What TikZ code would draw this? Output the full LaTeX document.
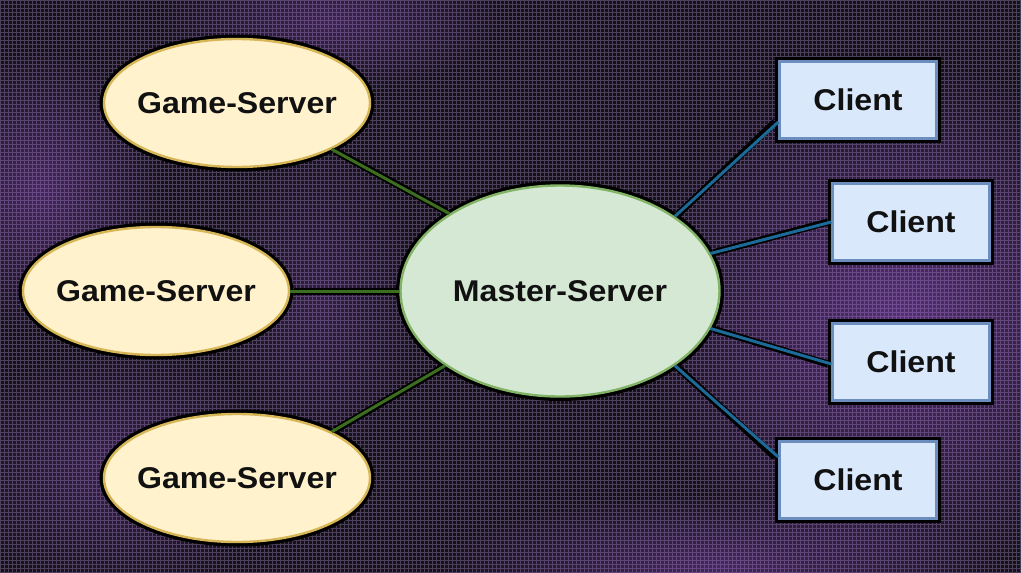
\documentclass[tikz,border=0pt]{standalone}
\usepackage{fontspec}
\setmainfont{Liberation Sans}
\usetikzlibrary{shapes.geometric,fadings}
\definecolor{bgc}{HTML}{141217}
\definecolor{gridc}{HTML}{4B3F5A}
\definecolor{glowc}{HTML}{B060F0}
\definecolor{gsfill}{HTML}{FFF2CC}
\definecolor{gsline}{HTML}{D6B656}
\definecolor{msfill}{HTML}{D5E8D4}
\definecolor{msline}{HTML}{82B366}
\definecolor{clfill}{HTML}{DAE8FC}
\definecolor{clline}{HTML}{6C8EBF}
\definecolor{greenedge}{HTML}{3B6E1F}
\definecolor{blueedge}{HTML}{1B6A98}
\definecolor{txt}{HTML}{111111}
\tikzfading[name=softglow, inner color=transparent!0, outer color=transparent!100]
\tikzset{
  lbl/.style={font=\bfseries\fontsize{30}{36}\selectfont, text=txt},
  gsshape/.style={ellipse, minimum width=266pt, minimum height=128pt, inner xsep=-40pt, inner ysep=0pt},
  msshape/.style={ellipse, minimum width=319pt, minimum height=211pt, inner xsep=-40pt, inner ysep=0pt},
  clshape/.style={rectangle, minimum width=157pt, minimum height=77pt, inner sep=0pt},
  halo/.style={draw=black, fill=black, line width=9pt},
  gsnode/.style={gsshape, fill=gsfill, draw=gsline, line width=2.4pt, lbl},
  msnode/.style={msshape, fill=msfill, draw=msline, line width=2.4pt, lbl},
  clnode/.style={clshape, fill=clfill, draw=clline, line width=2.4pt, lbl},
  edgeout/.style={draw=black, line width=7pt},
  gedge/.style={draw=greenedge, line width=3pt},
  bedge/.style={draw=blueedge, line width=3pt},
  glow/.style={fill=glowc, path fading=softglow},
}
\newcommand{\wtxt}[1]{\scalebox{1.07}[1]{#1}}
\begin{document}
\begin{tikzpicture}[x=1pt, y=-1pt]
\useasboundingbox (0,0) rectangle (1021,573);
\fill[bgc] (0,0) rectangle (1021,573);
% pixel grid
\foreach \i in {0,4,...,1020} {\draw[gridc, line width=1pt] (\i,0) -- (\i,573);}
\foreach \j in {0,4,...,572} {\draw[gridc, line width=1pt] (0,\j) -- (1021,\j);}
% soft purple glows
\fill[glow, opacity=0.40] (900,320) ellipse (260 and 260);
\fill[glow, opacity=0.30] (40,190) ellipse (120 and 140);
\fill[glow, opacity=0.25] (330,20) ellipse (170 and 70);
\fill[glow, opacity=0.30] (720,565) ellipse (280 and 70);
\fill[glow, opacity=0.22] (120,470) ellipse (170 and 120);
\fill[glow, opacity=0.18] (320,300) ellipse (100 and 160);

% outer black outlines
\node[gsshape, halo] (gs1o) at (237,103) {};
\node[gsshape, halo] (gs2o) at (156,291) {};
\node[gsshape, halo] (gs3o) at (237,478) {};
\node[msshape, halo] (mso) at (560,291) {};
\node[clshape, halo] (c1o) at (858,100) {};
\node[clshape, halo] (c2o) at (911,222) {};
\node[clshape, halo] (c3o) at (911,362) {};
\node[clshape, halo] (c4o) at (858,480) {};

% connectors (outer black)
\draw[edgeout] (gs1o.-26.6) -- (mso.145.8);
\draw[edgeout] (gs2o.east) -- (mso.west);
\draw[edgeout] (gs3o.26) -- (mso.213.8);
\draw[edgeout] (mso.33.7) -- ([yshift=-22pt]c1o.west);
\draw[edgeout] (mso.14.7) -- (c2o.west);
\draw[edgeout] (mso.-14.3) -- ([yshift=-2pt]c3o.west);
\draw[edgeout] (mso.-33.8) -- ([yshift=23pt]c4o.west);

\node[gsnode] (gs1) at (237,103) {\wtxt{Game-Server}};
\node[gsnode] (gs2) at (156,291) {\wtxt{Game-Server}};
\node[gsnode] (gs3) at (237,478) {\wtxt{Game-Server}};
\node[msnode] (ms) at (560,291) {\wtxt{Master-Server}};
\node[clnode] (c1) at (858,100) {\wtxt{Client}};
\node[clnode] (c2) at (911,222) {\wtxt{Client}};
\node[clnode] (c3) at (911,362) {\wtxt{Client}};
\node[clnode] (c4) at (858,480) {\wtxt{Client}};

% connectors (coloured core)
\draw[gedge] (gs1.-26.6) -- (ms.145.8);
\draw[gedge] (gs2.east) -- (ms.west);
\draw[gedge] (gs3.26) -- (ms.213.8);
\draw[bedge] (ms.33.7) -- ([yshift=-22pt]c1.west);
\draw[bedge] (ms.14.7) -- (c2.west);
\draw[bedge] (ms.-14.3) -- ([yshift=-2pt]c3.west);
\draw[bedge] (ms.-33.8) -- ([yshift=23pt]c4.west);
\end{tikzpicture}
\end{document}
